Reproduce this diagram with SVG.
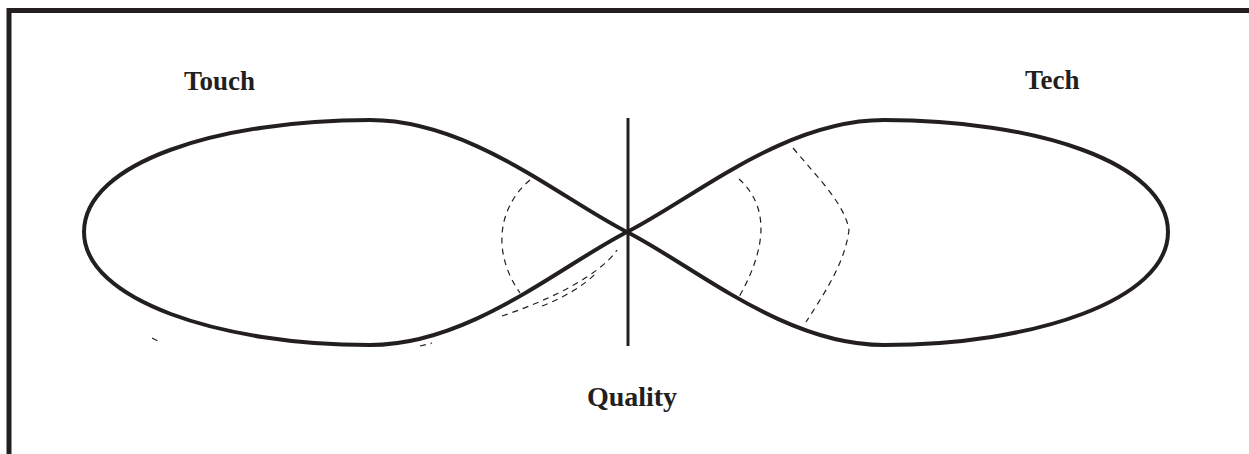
<svg xmlns="http://www.w3.org/2000/svg" width="1249" height="454" viewBox="0 0 1249 454">
<style>
.frame{fill:none;stroke:#231f20;stroke-width:5}
.loop{fill:none;stroke:#231f20;stroke-width:4;stroke-linejoin:round}
.axis{fill:none;stroke:#231f20;stroke-width:3}
.dash{fill:none;stroke:#231f20;stroke-width:1.2;stroke-dasharray:6,5}
.lbl{font-family:"Liberation Serif",serif;font-weight:bold;font-size:27px;fill:#231f20}
</style>
<rect width="1249" height="454" fill="#fff"/>
<path class="frame" d="M9,460 V10.5 H1255"/>
<g id="connectors">
<path class="axis" d="M628,118 V346"/>
<path class="dash" d="M530,180 C500,205 490,250 520,293"/>
<path class="dash" d="M502,316 C550,300 600,275 617,250"/>
<path class="dash" d="M542,306 C565,297 585,285 597,272"/>
<path class="dash" d="M739,179 C762,200 774,235 739,297"/>
<path class="dash" d="M793,148 C820,180 845,205 849,230 C845,260 830,285 806,322"/>
<path class="dash" d="M152,338 L158,341"/>
<path class="dash" d="M420,346 L432,343"/>
</g>
<g id="touch-loop">
<path class="loop" d="M627,232 C560,198 470,120 370,120 C220,120 84,162 84,232 C84,300 220,345 370,345 C470,345 560,266 627,232 Z"/>
</g>
<g id="tech-loop">
<path class="loop" d="M627,232 C694,198 784,120 884,120 C1034,120 1168,162 1168,232 C1168,300 1034,345 884,345 C784,345 694,266 627,232 Z"/>
</g>
<g id="touch"><text class="lbl" x="184" y="90">Touch</text></g>
<g id="tech"><text class="lbl" x="1025" y="89">Tech</text></g>
<g id="quality"><text class="lbl" x="632" y="406" text-anchor="middle" style="font-size:28px">Quality</text></g>
</svg>
